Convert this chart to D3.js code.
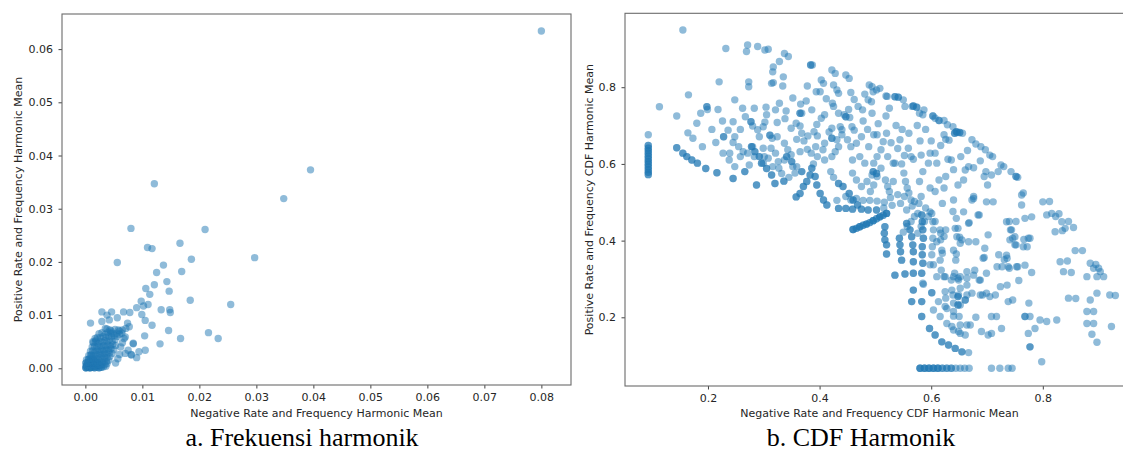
<!DOCTYPE html>
<html>
<head>
<meta charset="utf-8">
<script src="https://cdn.jsdelivr.net/npm/d3@7"></script>
<style>
  body { margin: 0; background: #fff; }
  svg text { font-family: "DejaVu Sans", sans-serif; }
</style>
</head>
<body>
<svg id="fig" width="1123" height="453"></svg>
<script>
// ---- data: panel a (frekuensi harmonik), [neg, pos, count]
var freqCluster = [
  [0.0001,0.0001,3],[0.0004,0.0002,3],[0.0008,0.0001,3],[0.0012,0.0002,3],[0.0016,0.0001,2],[0.0020,0.0002,2],[0.0024,0.0001,2],[0.0028,0.0002,2],[0.0032,0.0003],[0.0036,0.0004],
  [0.0002,0.0005,3],[0.0006,0.0006,3],[0.0010,0.0005,3],[0.0014,0.0006,2],[0.0018,0.0005,2],[0.0022,0.0007,2],[0.0026,0.0006,2],[0.0030,0.0008],[0.0034,0.0007],[0.0038,0.0009],
  [0.0001,0.0010,2],[0.0005,0.0011,3],[0.0009,0.0012,2],[0.0013,0.0011,2],[0.0017,0.0012,2],[0.0021,0.0011,2],[0.0025,0.0013],[0.0029,0.0012],[0.0033,0.0014],[0.0037,0.0013],[0.0041,0.0015],
  [0.0002,0.0016],[0.0006,0.0017,2],[0.0010,0.0018,2],[0.0014,0.0017,2],[0.0018,0.0019],[0.0022,0.0018],[0.0026,0.0020],[0.0030,0.0019],[0.0034,0.0021],[0.0038,0.0020],[0.0043,0.0022],
  [0.0006,0.0024],[0.0010,0.0025,2],[0.0014,0.0024],[0.0018,0.0026],[0.0022,0.0025],[0.0026,0.0027],[0.0030,0.0026],[0.0034,0.0028],[0.0038,0.0027],[0.0042,0.0029],[0.0047,0.0028],
  [0.0009,0.0032],[0.0013,0.0033],[0.0017,0.0031],[0.0021,0.0034],[0.0025,0.0032],[0.0029,0.0035],[0.0033,0.0033],[0.0037,0.0036],[0.0041,0.0034],[0.0045,0.0037],[0.0050,0.0035],
  [0.0012,0.0040],[0.0016,0.0041],[0.0020,0.0039],[0.0024,0.0042],[0.0028,0.0040],[0.0032,0.0043],[0.0036,0.0041],[0.0040,0.0044],[0.0044,0.0042],[0.0048,0.0045],[0.0053,0.0043],
  [0.0014,0.0048],[0.0018,0.0050],[0.0022,0.0047],[0.0026,0.0051],[0.0030,0.0049],[0.0034,0.0052],[0.0038,0.0050],[0.0042,0.0053],[0.0047,0.0051],[0.0052,0.0054],
  [0.0017,0.0056],[0.0021,0.0058],[0.0026,0.0057],[0.0031,0.0060],[0.0036,0.0058],[0.0041,0.0061],[0.0046,0.0059],[0.0051,0.0062],[0.0056,0.0060],
  [0.0024,0.0065],[0.0029,0.0067],[0.0035,0.0064],[0.0040,0.0068],[0.0045,0.0066],[0.0055,0.0066],[0.0060,0.0064],
  [0.0045,0.0070],[0.0038,0.0074],[0.0052,0.0073],[0.0060,0.0070],[0.0065,0.0072],[0.0071,0.0075],
  [0.0053,0.0010],[0.0057,0.0018],[0.0060,0.0026],[0.0062,0.0040],[0.0065,0.0048],[0.0068,0.0056],[0.0075,0.0034],[0.0084,0.0047],[0.0081,0.0025],[0.0090,0.0020]
];
var freqOutliers = [
  [0.0800,0.0634],[0.0395,0.0373],[0.0348,0.0319],[0.0121,0.0347],[0.0080,0.0263],[0.0210,0.0261],
  [0.0166,0.0235],[0.0109,0.0227],[0.0117,0.0225],[0.0056,0.0199],[0.0186,0.0205],[0.0297,0.0208],
  [0.0137,0.0194],[0.0125,0.0180],[0.0169,0.0182],[0.0143,0.0163],[0.0121,0.0157],[0.0106,0.0150],
  [0.0147,0.0145],[0.0113,0.0139],[0.0184,0.0128],[0.0255,0.0120],[0.0098,0.0126],[0.0110,0.0120],
  [0.0102,0.0117],[0.0090,0.0114],[0.0133,0.0110],[0.0148,0.0110],[0.0149,0.0105],[0.0099,0.0101],
  [0.0105,0.0090],[0.0117,0.0081],[0.0146,0.0071],[0.0216,0.0067],[0.0233,0.0056],[0.0167,0.0056],
  [0.0104,0.0061],[0.0131,0.0046],[0.0084,0.0046],[0.0105,0.0034],[0.0094,0.0031],[0.0080,0.0026],
  [0.0070,0.0028],[0.0009,0.0085],[0.0029,0.0106],[0.0046,0.0106],[0.0067,0.0106],[0.0078,0.0105],
  [0.0038,0.0100],[0.0029,0.0088],[0.0042,0.0091],[0.0056,0.0095],[0.0074,0.0085],[0.0077,0.0078],
  [0.0070,0.0059],[0.0064,0.0066],[0.0058,0.0072],[0.0043,0.0072],[0.0035,0.0075],[0.0048,0.0066],
  [0.0019,0.0053],[0.0013,0.0050]
];
var freqXTicks = [0, 0.01, 0.02, 0.03, 0.04, 0.05, 0.06, 0.07, 0.08];
var freqYTicks = [0, 0.01, 0.02, 0.03, 0.04, 0.05, 0.06];

// ---- data: panel b (CDF harmonik), [neg, pos, count]
var cdfPoints = [
  // column at the left edge
  [0.093,0.676],[0.093,0.648,2],[0.093,0.641,2],[0.093,0.634,2],[0.093,0.627,2],[0.093,0.620,2],[0.093,0.613,2],
  [0.093,0.606,2],[0.093,0.599,2],[0.093,0.592,2],[0.093,0.585,2],[0.093,0.578,2],[0.093,0.572,2],
  // top
  [0.155,0.949],[0.232,0.901],[0.271,0.910],[0.269,0.893],[0.289,0.906],[0.302,0.897],[0.308,0.899],[0.337,0.888],
  [0.344,0.880],[0.328,0.867],[0.317,0.853],[0.316,0.840],[0.384,0.858,2],[0.387,0.858],[0.422,0.845],[0.428,0.836],
  [0.447,0.832],[0.453,0.823],[0.335,0.827],[0.273,0.814],[0.273,0.801],[0.220,0.814],[0.314,0.810],[0.317,0.812],
  [0.403,0.819],[0.407,0.810],[0.378,0.803],[0.334,0.803],[0.425,0.806],[0.431,0.793],[0.434,0.784],[0.394,0.788],
  [0.401,0.788],[0.456,0.786],[0.481,0.782],[0.489,0.806],[0.494,0.801],[0.502,0.793],[0.508,0.797],[0.496,0.788],
  [0.487,0.767],[0.493,0.762],[0.519,0.777],[0.535,0.775,2],[0.541,0.774,2],[0.550,0.767],[0.568,0.751,2],[0.574,0.748,2],
  [0.113,0.749],[0.144,0.725],[0.165,0.780],[0.198,0.749,2],[0.199,0.742],[0.218,0.742],[0.187,0.732],[0.180,0.706],
  [0.248,0.767],[0.164,0.681],[0.173,0.667],
  // band 0.6 - 0.76
  [0.278,0.645,2],[0.284,0.632,2],[0.292,0.619,2],[0.277,0.710,2],[0.280,0.699],[0.311,0.675,2],[0.365,0.732,2],
  [0.422,0.667,2],[0.447,0.723,2],[0.454,0.721],[0.245,0.710],[0.267,0.723],[0.283,0.745],[0.304,0.748],[0.305,0.728],
  [0.328,0.758],[0.321,0.741],[0.324,0.708],[0.299,0.697],[0.302,0.709],[0.366,0.756],[0.368,0.732],[0.386,0.741],
  [0.349,0.693],[0.365,0.699],[0.403,0.719],[0.409,0.728],[0.423,0.758],[0.425,0.750],[0.434,0.732],[0.444,0.728],
  [0.437,0.697],[0.440,0.689],[0.422,0.693],[0.458,0.697],[0.469,0.750],[0.477,0.741],[0.494,0.732],[0.521,0.776],
  [0.519,0.725],[0.553,0.750],[0.566,0.750],[0.587,0.741],[0.579,0.732],[0.585,0.728],[0.603,0.725,2],[0.607,0.719],
  [0.614,0.713,2],[0.623,0.713],[0.629,0.702],[0.639,0.697],[0.645,0.684,2],[0.651,0.682,2],[0.656,0.680],
  [0.228,0.671,2],[0.248,0.671],[0.245,0.656],[0.190,0.645],[0.214,0.656],[0.239,0.628],[0.255,0.645],[0.263,0.632],
  [0.258,0.619],[0.271,0.628],[0.280,0.645],[0.283,0.619],[0.274,0.597],[0.299,0.641],[0.301,0.619],[0.299,0.602],
  [0.289,0.689],[0.292,0.671],[0.315,0.667],[0.324,0.671],[0.313,0.641],[0.321,0.628],[0.337,0.654],[0.343,0.637],
  [0.349,0.624],[0.326,0.606],[0.337,0.610],[0.359,0.664],[0.368,0.680],[0.372,0.660],[0.379,0.673],[0.390,0.684],
  [0.396,0.673],[0.365,0.632],[0.378,0.638],[0.385,0.628],[0.393,0.645],[0.406,0.637],[0.409,0.654],[0.431,0.663],
  [0.434,0.645],[0.440,0.676],[0.450,0.663],[0.456,0.645],[0.466,0.654],[0.475,0.671],[0.488,0.645],[0.497,0.676],
  [0.503,0.676],[0.510,0.637],[0.396,0.619],[0.409,0.610],[0.422,0.619],[0.428,0.632],[0.459,0.610],[0.472,0.619],
  [0.481,0.602],[0.497,0.602],[0.503,0.619],[0.522,0.619],[0.532,0.602],[0.544,0.663],[0.559,0.641],[0.564,0.619],
  [0.568,0.612],[0.582,0.623],[0.598,0.628],[0.607,0.628],[0.610,0.602],[0.595,0.602],[0.636,0.610],[0.653,0.619],
  [0.673,0.663],[0.680,0.652],[0.689,0.645],[0.697,0.637],[0.705,0.623],[0.710,0.619],[0.623,0.676],[0.626,0.664],
  [0.632,0.662],[0.642,0.680,2],[0.647,0.682],[0.525,0.745],[0.537,0.700],[0.548,0.690],[0.520,0.680],[0.560,0.680],
  [0.575,0.700],[0.590,0.690],[0.600,0.660],[0.580,0.660],[0.540,0.640],
  [0.352,0.772],[0.376,0.764],[0.412,0.770],[0.462,0.768],[0.452,0.742],[0.478,0.712],[0.505,0.705],[0.395,0.703],
  [0.338,0.718],[0.358,0.706],[0.417,0.683],[0.462,0.688],[0.486,0.690],[0.528,0.655],[0.552,0.622],[0.514,0.658],
  [0.258,0.690],[0.236,0.688],[0.207,0.690],[0.226,0.712],[0.262,0.745],[0.340,0.738],[0.617,0.648],[0.665,0.635],
  [0.688,0.608],[0.676,0.590],[0.640,0.585],[0.630,0.612],
  // lower-left boundary and radial strips
  [0.144,0.642,2],[0.155,0.628,2],[0.162,0.619,2],[0.171,0.610,2],[0.181,0.602,2],[0.196,0.588,2],[0.216,0.577,2],
  [0.245,0.562,2],[0.266,0.580,2],[0.287,0.545,2],[0.320,0.549,2],[0.336,0.555,2],[0.305,0.588,2],[0.314,0.571,2],
  [0.296,0.602,2],[0.248,0.593],[0.238,0.610],[0.227,0.628],[0.341,0.619,2],[0.350,0.606,2],[0.359,0.593],[0.368,0.580,2],
  [0.358,0.514,2],[0.365,0.523,2],[0.371,0.541,2],[0.377,0.554,2],[0.383,0.571,2],[0.392,0.567,2],[0.395,0.545,2],
  [0.401,0.523,2],[0.407,0.506,2],[0.413,0.493,2],[0.434,0.549,2],[0.442,0.541,2],[0.453,0.523,2],[0.460,0.506,2],
  [0.468,0.493,2],[0.475,0.482,2],[0.487,0.480,2],[0.502,0.480,2],[0.434,0.484,2],[0.447,0.484,2],[0.459,0.482,2],
  [0.515,0.485],[0.496,0.580,2],[0.502,0.575,2],[0.386,0.589,2],[0.389,0.600],[0.352,0.593],[0.356,0.576],[0.308,0.615],
  [0.316,0.593],[0.327,0.589],[0.332,0.575],[0.345,0.565],[0.420,0.580],[0.425,0.565],[0.431,0.505],[0.447,0.515],
  [0.456,0.506],[0.466,0.510],[0.478,0.505],[0.490,0.505],[0.503,0.503],[0.516,0.500],
  // band 0.5 - 0.6
  [0.459,0.576],[0.466,0.558],[0.475,0.541],[0.485,0.554],[0.494,0.571],[0.497,0.545],[0.503,0.567],[0.491,0.528],
  [0.510,0.589],[0.518,0.558],[0.522,0.541],[0.525,0.528],[0.532,0.554],[0.535,0.602],[0.547,0.600],[0.551,0.576],
  [0.554,0.554],[0.557,0.537],[0.560,0.524],[0.564,0.506],[0.570,0.502],[0.579,0.554],[0.582,0.515],[0.585,0.580],
  [0.598,0.537],[0.607,0.528],[0.614,0.558],[0.623,0.537],[0.620,0.497],[0.626,0.567],[0.648,0.545],[0.658,0.558],
  [0.661,0.584],[0.667,0.593],[0.673,0.506],[0.676,0.515],[0.695,0.567],[0.698,0.580],[0.701,0.545],[0.708,0.571],
  [0.720,0.580],[0.725,0.597],[0.730,0.593],[0.743,0.580],[0.752,0.567,2],[0.755,0.565],[0.640,0.506],[0.676,0.510],
  [0.699,0.501],[0.711,0.501],[0.762,0.519],[0.762,0.493],[0.765,0.524],[0.800,0.501],
  [0.530,0.492],[0.545,0.497],[0.556,0.480],[0.566,0.490],[0.578,0.497],[0.590,0.485],[0.598,0.475],[0.540,0.520],
  [0.552,0.515],[0.527,0.512],
  // dark arc near 0.45
  [0.460,0.429,3],[0.466,0.432,2],[0.472,0.436,3],[0.478,0.440,2],[0.484,0.443,3],[0.490,0.447,2],[0.496,0.452,3],
  [0.502,0.457,2],[0.508,0.462,3],[0.514,0.466,2],[0.520,0.471,3],
  // fans 0.3 - 0.47
  [0.517,0.436,2],[0.516,0.419,2],[0.517,0.402,2],[0.520,0.389,2],[0.520,0.365,2],[0.543,0.406,2],[0.544,0.389,2],
  [0.545,0.371,2],[0.547,0.349,2],[0.550,0.422],[0.557,0.437],[0.564,0.450],[0.570,0.463],[0.576,0.471],[0.556,0.445,2],
  [0.562,0.428,2],[0.565,0.410,2],[0.567,0.389,2],[0.568,0.371,2],[0.568,0.345,2],[0.576,0.419],[0.582,0.437],
  [0.588,0.450],[0.595,0.463],[0.601,0.471],[0.583,0.467,2],[0.584,0.449,2],[0.585,0.428,2],[0.586,0.406,2],
  [0.584,0.384,2],[0.584,0.363,2],[0.585,0.341,2],[0.603,0.449],[0.604,0.428],[0.603,0.406],[0.602,0.384],[0.601,0.363],
  [0.604,0.337],[0.616,0.428],[0.617,0.402],[0.619,0.375],[0.616,0.349],[0.618,0.323],[0.610,0.397],[0.617,0.419],
  [0.607,0.450],[0.620,0.367],[0.535,0.310,2],[0.553,0.313,2],[0.568,0.315,2],[0.583,0.315,2],
  // right-hand scatter
  [0.598,0.337],[0.610,0.306],[0.623,0.306],[0.636,0.297],[0.648,0.302],[0.642,0.315],[0.664,0.319],[0.625,0.306],
  [0.652,0.306],[0.664,0.302],[0.678,0.323],[0.676,0.310],[0.643,0.432],[0.646,0.410],[0.652,0.393],[0.640,0.375],
  [0.644,0.349],[0.658,0.475],[0.667,0.445],[0.684,0.467],[0.688,0.297],[0.693,0.354],[0.696,0.380],[0.702,0.415],
  [0.639,0.476],[0.645,0.458],[0.648,0.432],[0.651,0.409],[0.655,0.402],[0.668,0.447],[0.667,0.397],[0.645,0.365],
  [0.623,0.411],[0.626,0.428],[0.686,0.467],[0.680,0.397],[0.695,0.356],[0.699,0.315],[0.686,0.297],[0.718,0.332],
  [0.721,0.363],[0.727,0.332],[0.731,0.350],[0.736,0.354],[0.740,0.328],[0.735,0.449],[0.744,0.428],[0.741,0.402],
  [0.750,0.410],[0.750,0.389],[0.735,0.362],[0.738,0.332],[0.753,0.332],[0.768,0.336],[0.765,0.384],[0.774,0.406],
  [0.780,0.462],[0.768,0.458],[0.740,0.450],[0.752,0.450],[0.742,0.428],[0.746,0.406],[0.752,0.389],[0.766,0.403],
  [0.777,0.406],[0.772,0.384],[0.755,0.332],[0.780,0.317],[0.757,0.296],[0.807,0.467],[0.816,0.471],[0.822,0.423],
  [0.834,0.449],[0.840,0.432],[0.812,0.502],[0.823,0.463],[0.829,0.470],[0.835,0.426],[0.846,0.450],[0.855,0.434],
  [0.871,0.374],[0.844,0.347],[0.851,0.317],[0.831,0.345],[0.837,0.319],[0.846,0.250],[0.858,0.374],[0.859,0.249],
  [0.885,0.341],[0.891,0.328],[0.897,0.306],[0.879,0.306],[0.895,0.338],[0.900,0.328],[0.903,0.319],[0.909,0.306],
  [0.920,0.258],[0.897,0.263],[0.885,0.245],[0.879,0.215],[0.891,0.215],[0.879,0.184],[0.891,0.184],[0.888,0.156],
  [0.897,0.135],[0.923,0.176],[0.930,0.257],
  // lower fans
  [0.568,0.271,2],[0.586,0.286],[0.601,0.264,2],[0.583,0.241,2],[0.565,0.241,2],[0.613,0.241],[0.626,0.250],[0.639,0.258],
  [0.648,0.254,2],[0.661,0.245,2],[0.585,0.289],[0.583,0.202,2],[0.597,0.171,2],[0.607,0.154,2],[0.619,0.136,2],
  [0.631,0.128,2],[0.643,0.119,2],[0.655,0.110,2],[0.667,0.108],[0.604,0.219],[0.616,0.202],[0.628,0.184],[0.640,0.167],
  [0.652,0.158],[0.661,0.154],[0.625,0.228],[0.640,0.215],[0.650,0.202],[0.664,0.180],[0.637,0.176],[0.649,0.163],
  [0.652,0.180],[0.670,0.180],[0.640,0.203],[0.628,0.223],[0.648,0.232,2],[0.625,0.267],[0.637,0.271],[0.652,0.276],
  [0.664,0.284],[0.649,0.297],[0.640,0.306],[0.649,0.258],[0.664,0.258],[0.640,0.237],[0.652,0.232],[0.705,0.254],
  [0.708,0.158],[0.688,0.258],[0.699,0.263],[0.690,0.163],[0.702,0.154],[0.726,0.171],[0.717,0.202],[0.680,0.200],
  [0.708,0.202],[0.738,0.241],[0.724,0.280],[0.736,0.284],[0.673,0.263],[0.692,0.258],[0.715,0.258],[0.746,0.245],
  [0.777,0.202],[0.777,0.123,2],[0.768,0.202,2],[0.786,0.171],[0.774,0.158],[0.798,0.084],[0.795,0.193],[0.807,0.189],
  [0.825,0.193],[0.775,0.237],
  // bottom row
  [0.580,0.067,3],[0.588,0.067,3],[0.596,0.067,3],[0.604,0.067,3],[0.612,0.067,3],[0.620,0.067,2],[0.628,0.067,2],
  [0.636,0.067,2],[0.644,0.067],[0.652,0.067],[0.660,0.067],[0.668,0.067],[0.708,0.067],[0.723,0.067],[0.738,0.067],
  [0.745,0.067]
];
var cdfXTicks = [0.2, 0.4, 0.6, 0.8];
var cdfYTicks = [0.2, 0.4, 0.6, 0.8];

var svg = d3.select("#fig");
var dotColor = "#1f77b4";

function panel(o) {
  var x = d3.scaleLinear().domain(o.xDomain).range([o.left, o.right]);
  var y = d3.scaleLinear().domain(o.yDomain).range([o.bottom, o.top]);
  var g = svg.append("g");

  // expand [x, y, count] into one circle per record
  var recs = [];
  o.points.forEach(function(p) {
    var n = p[2] || 1;
    for (var k = 0; k < n; k++) recs.push(p);
  });

  g.append("g").selectAll("circle")
    .data(recs)
    .enter().append("circle")
    .attr("cx", function(d) { return x(d[0]); })
    .attr("cy", function(d) { return y(d[1]); })
    .attr("r", 3.7)
    .attr("fill", dotColor)
    .attr("fill-opacity", 0.5);

  var xa = g.append("g")
    .attr("transform", "translate(0," + o.bottom + ")")
    .call(d3.axisBottom(x).tickValues(o.xTicks).tickFormat(d3.format(o.fmt)).tickSize(3.5).tickPadding(5));
  var ya = g.append("g")
    .attr("transform", "translate(" + o.left + ",0)")
    .call(d3.axisLeft(y).tickValues(o.yTicks).tickFormat(d3.format(o.fmt)).tickSize(3.5).tickPadding(5.5));
  [xa, ya].forEach(function(a) {
    a.select(".domain").remove();
    a.selectAll("line").attr("stroke", "#444");
    a.selectAll("text").attr("fill", "#262626").style("font-size", "11px")
      .style("font-family", "'DejaVu Sans', sans-serif");
  });

  g.append("rect")
    .attr("x", o.left).attr("y", o.top)
    .attr("width", o.right - o.left).attr("height", o.bottom - o.top)
    .attr("fill", "none").attr("stroke", "#6b6b6b").attr("stroke-width", 1.1);

  g.append("text")
    .attr("x", (o.left + o.right) / 2).attr("y", 417)
    .attr("text-anchor", "middle").attr("fill", "#262626").style("font-size", "11px")
    .text(o.xLabel);
  g.append("text")
    .attr("transform", "translate(" + o.yLabelX + "," + (o.top + o.bottom) / 2 + ") rotate(-90)")
    .attr("text-anchor", "middle").attr("fill", "#262626").style("font-size", "11px")
    .text(o.yLabel);
  g.append("text")
    .attr("x", o.titleX).attr("y", 446)
    .attr("text-anchor", "middle").attr("fill", "#000")
    .style("font-family", "'Liberation Serif', 'Times New Roman', serif").style("font-size", "26px")
    .text(o.title);
}

panel({
  points: freqCluster.concat(freqOutliers),
  xDomain: [-0.0041, 0.0852], yDomain: [-0.00314, 0.0666],
  left: 62, right: 571, top: 14, bottom: 385,
  xTicks: freqXTicks, yTicks: freqYTicks, fmt: ".2f",
  xLabel: "Negative Rate and Frequency Harmonic Mean",
  yLabel: "Positive Rate and Frequency Harmonic Mean", yLabelX: 21.5,
  title: "a. Frekuensi harmonik", titleX: 302
});

panel({
  points: cdfPoints,
  xDomain: [0.0513, 0.9634], yDomain: [0.0209, 0.9927],
  left: 625, right: 1134, top: 13.3, bottom: 386,
  xTicks: cdfXTicks, yTicks: cdfYTicks, fmt: ".1f",
  xLabel: "Negative Rate and Frequency CDF Harmonic Mean",
  yLabel: "Positive Rate and Frequency CDF Harmonic Mean", yLabelX: 593,
  title: "b. CDF Harmonik", titleX: 861
});
</script>
</body>
</html>
